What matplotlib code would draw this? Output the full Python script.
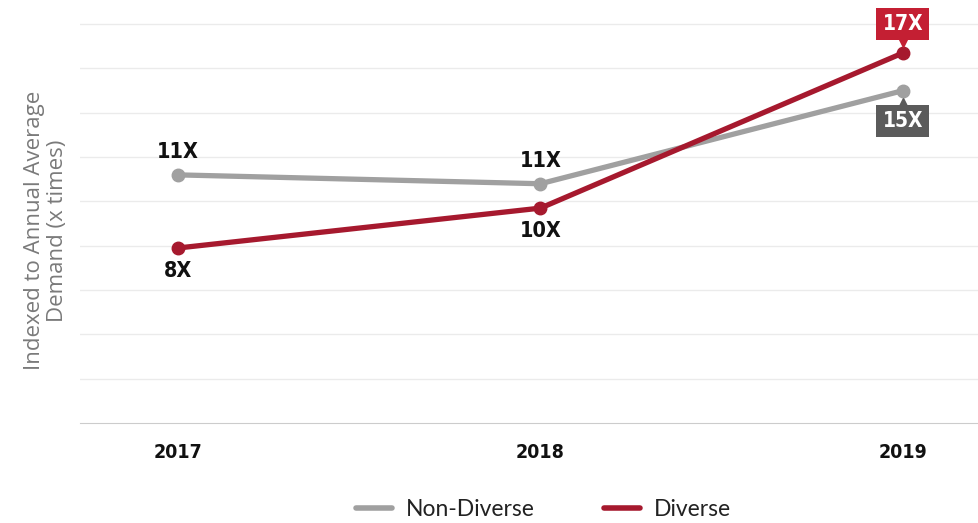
import matplotlib
matplotlib.use('Agg')
import matplotlib.pyplot as plt
import matplotlib.transforms as mtransforms
from matplotlib.lines import Line2D

# ── Data ─────────────────────────────────────────────────────────────────────
years = ["2017", "2018", "2019"]
non_diverse = [11.2, 10.8, 15.0]
diverse = [7.9, 9.7, 16.7]
non_diverse_labels = ["11X", "11X", "15X"]
diverse_labels = ["8X", "10X", "17X"]

GRAY = "#a0a0a0"
RED = "#a6192e"
RED_BOX = "#c41f33"
DARK_BOX = "#5b5b5b"
LBL = dict(family="DejaVu Sans", fontstretch="condensed", fontweight="bold")

fig = plt.figure(figsize=(9.79, 5.23), dpi=100)
ax = fig.add_axes([0.0817, 0.191, 0.9183, 0.809])

x = list(range(len(years)))
ax.plot(x, non_diverse, color=GRAY, lw=3.8, marker="o", ms=9,
        solid_capstyle="round", zorder=3)
ax.plot(x, diverse, color=RED, lw=3.8, marker="o", ms=9,
        solid_capstyle="round", zorder=4)

# plain labels for 2017 / 2018
for i in range(2):
    ax.annotate(non_diverse_labels[i], (x[i], non_diverse[i]),
                xytext=(0, 16.5), textcoords="offset points",
                ha="center", va="center", fontsize=15.5, color="#111111", **LBL)
    ax.annotate(diverse_labels[i], (x[i], diverse[i]),
                xytext=(0, -16.5), textcoords="offset points",
                ha="center", va="center", fontsize=15.5, color="#111111", **LBL)

# boxed labels for 2019
ax.annotate(diverse_labels[2], (x[2], diverse[2]), xytext=(0, 21),
            textcoords="offset points", ha="center", va="center",
            fontsize=15, color="white", zorder=6,
            bbox=dict(boxstyle="square,pad=0.3", fc=RED_BOX, ec="none"), **LBL)
ax.annotate(non_diverse_labels[2], (x[2], non_diverse[2]), xytext=(0, -22),
            textcoords="offset points", ha="center", va="center",
            fontsize=15, color="white", zorder=6,
            bbox=dict(boxstyle="square,pad=0.3", fc=DARK_BOX, ec="none"), **LBL)

# little pointers under/over the boxes
off_up = mtransforms.offset_copy(ax.transData, fig=fig, x=0, y=8, units="points")
off_dn = mtransforms.offset_copy(ax.transData, fig=fig, x=0, y=-9, units="points")
ax.plot([x[2]], [diverse[2]], marker="v", ms=7, color=RED_BOX, ls="none",
        transform=off_up, zorder=5)
ax.plot([x[2]], [non_diverse[2]], marker="^", ms=7, color=DARK_BOX, ls="none",
        transform=off_dn, zorder=5)

ax.set_xlim(-0.27, 2.21)
ax.set_ylim(0, 19.09)
ax.set_yticks(range(2, 19, 2))
ax.yaxis.grid(True, color="#ebebeb", lw=1)
ax.set_axisbelow(True)
ax.tick_params(axis="y", length=0, labelleft=False)
ax.tick_params(axis="x", length=0, pad=14)
ax.set_xticks(x)
ax.set_xticklabels(years, fontsize=14, color="#111111", **LBL)
for s in ["top", "right", "left"]:
    ax.spines[s].set_visible(False)
ax.spines["bottom"].set_color("#cccccc")

ax.text(-0.038, 0.455, "Indexed to Annual Average\nDemand (x times)",
        transform=ax.transAxes, rotation=90, ha="center", va="center",
        fontsize=16, color="#7a7a7a", family="Open Sans", linespacing=1.15)

handles = [Line2D([], [], color=GRAY, lw=4, solid_capstyle="round"),
           Line2D([], [], color=RED, lw=4, solid_capstyle="round")]
leg = fig.legend(handles, ["Non-Diverse", "Diverse"], loc="center",
                 bbox_to_anchor=(0.555, 0.025), ncol=2, frameon=False,
                 handlelength=1.6, handletextpad=0.6, columnspacing=3.0,
                 prop={"family": "Lato", "size": 16.5})
for t in leg.get_texts():
    t.set_color("#222222")

fig.savefig("out.png", dpi=100)
